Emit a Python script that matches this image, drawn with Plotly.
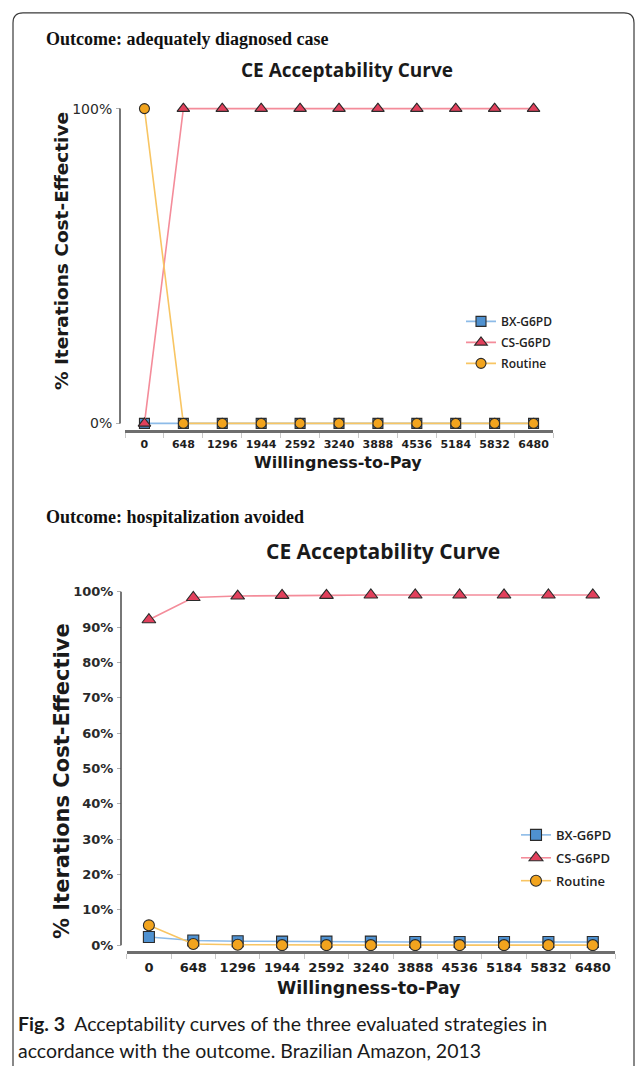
import plotly.graph_objects as go

# Willingness-to-pay thresholds (category axis)
wtp = ["0", "648", "1296", "1944", "2592", "3240", "3888", "4536", "5184", "5832", "6480"]

# Outcome: adequately diagnosed case (% of iterations cost-effective)
diag_bx = [0, 0, 0, 0, 0, 0, 0, 0, 0, 0, 0]
diag_cs = [0, 100, 100, 100, 100, 100, 100, 100, 100, 100, 100]
diag_routine = [100, 0, 0, 0, 0, 0, 0, 0, 0, 0, 0]

# Outcome: hospitalization avoided (% of iterations cost-effective)
hosp_bx = [2.3, 1.3, 1.1, 1.0, 1.0, 1.0, 0.9, 0.9, 0.9, 0.9, 0.9]
hosp_cs = [92.1, 98.4, 98.8, 99.0, 99.0, 99.1, 99.1, 99.1, 99.1, 99.1, 99.1]
hosp_routine = [5.6, 0.3, 0.1, 0.0, 0.0, 0.0, 0.0, 0.0, 0.0, 0.0, 0.0]

top_yticks = [0, 100]
bottom_yticks = [0, 10, 20, 30, 40, 50, 60, 70, 80, 90, 100]

W, H = 637, 1068


def px(x):
    return x / W


def py(y):
    return 1 - y / H


TICK_FONT = "DejaVu Sans"
AXIS_FONT = "DejaVu Sans"

styles = {
    "BX-G6PD": dict(symbol="square", fill="#4f91d0", line="#8dbbe8"),
    "CS-G6PD": dict(symbol="triangle-up", fill="#e2405c", line="#f48c9a"),
    "Routine": dict(symbol="circle", fill="#f2a41e", line="#f8c563"),
}

fig = go.Figure()


def add_series(name, values, xa, ya, legend, size):
    st = styles[name]
    sz = size + (1 if st["symbol"] == "triangle-up" else 0)
    fig.add_trace(go.Scatter(
        x=wtp, y=values, name=name, mode="lines+markers",
        xaxis=xa, yaxis=ya, legend=legend, legendgroup=f"{legend}-{name}",
        line=dict(color=st["line"], width=1.6),
        marker=dict(symbol=st["symbol"], size=sz, color=st["fill"],
                    line=dict(color="#2b2b2b", width=1.1)),
    ))


for name, vals in [("BX-G6PD", diag_bx), ("CS-G6PD", diag_cs), ("Routine", diag_routine)]:
    add_series(name, vals, "x", "y", "legend", 10)
for name, vals in [("BX-G6PD", hosp_bx), ("CS-G6PD", hosp_cs), ("Routine", hosp_routine)]:
    add_series(name, vals, "x2", "y2", "legend2", 11)


def xaxis_cfg(domain, anchor, fsize):
    return dict(
        domain=domain, anchor=anchor, type="category",
        categoryorder="array", categoryarray=wtp, range=[-0.5, 10.5],
        tickson="boundaries", ticks="outside", ticklen=5, tickwidth=1,
        tickcolor="#c8c8c8", showline=True, linecolor="#6e6e6e", linewidth=3,
        showgrid=False, zeroline=False, tickangle=0,
        tickfont=dict(family=TICK_FONT, size=fsize, color="#1e1e1e", weight="bold"),
        ticklabelstandoff=2,
    )


def yaxis_cfg(domain, rng, ticks, pos, fsize, weight):
    return dict(
        domain=domain, range=rng, anchor="free", position=pos,
        tickvals=ticks, ticktext=[f"{t}%" for t in ticks],
        ticks="outside", ticklen=4, tickcolor="#b0b0b0",
        showline=False, showgrid=False, zeroline=False,
        tickfont=dict(family=TICK_FONT, size=fsize, color="#2a2a2a", weight=weight),
        ticklabelstandoff=1,
    )


fig.update_layout(
    width=W, height=H,
    margin=dict(l=0, r=0, t=0, b=0),
    paper_bgcolor="white", plot_bgcolor="white",
    xaxis=xaxis_cfg([px(125), px(553)], "y", 11),
    yaxis=yaxis_cfg([py(429.3), py(100.7)], [-2, 102], top_yticks, px(120), 14, "normal"),
    xaxis2=xaxis_cfg([px(126.7), px(615)], "y2", 13),
    yaxis2=yaxis_cfg([py(952.7), py(586)], [-1.7, 101.7], bottom_yticks, px(121), 13, "bold"),
    legend=dict(x=px(461), y=py(306), xanchor="left", yanchor="top",
                font=dict(family="Open Sans", size=12, color="#222", weight=600),
                bgcolor="rgba(0,0,0,0)", traceorder="grouped", tracegroupgap=2),
    legend2=dict(x=px(516), y=py(821), xanchor="left", yanchor="top",
                 font=dict(family="Open Sans", size=13, color="#222", weight=600),
                 bgcolor="rgba(0,0,0,0)", traceorder="grouped", tracegroupgap=3),
    showlegend=True,
)

# Vertical axis lines spanning 0%..100%
for yref, xpos in [("y", 120), ("y2", 121)]:
    fig.add_shape(type="line", xref="paper", yref=yref,
                  x0=px(xpos), x1=px(xpos), y0=0, y1=100,
                  line=dict(color="#4a4a4a", width=1.5))

# Rounded figure frame (open at the bottom)
r = 10
frame = (f"M {px(13)},{py(1068)} L {px(13)},{py(11 + r)} "
         f"Q {px(13)},{py(11)} {px(13 + r)},{py(11)} "
         f"L {px(634 - r)},{py(11)} Q {px(634)},{py(11)} {px(634)},{py(11 + r)} "
         f"L {px(634)},{py(1068)}")
fig.add_shape(type="path", xref="paper", yref="paper", path=frame,
              line=dict(color="#3a3a3a", width=1.2))


def note(text, x, y, size, family, color="#111", weight="normal",
         xanchor="center", angle=0):
    fig.add_annotation(text=text, x=px(x), y=py(y), xref="paper", yref="paper",
                       xanchor=xanchor, yanchor="middle", showarrow=False,
                       textangle=angle,
                       font=dict(family=family, size=size, color=color, weight=weight))


SERIF = "Liberation Serif"
TITLE_FONT = "Open Sans"

# Panel headings
note("Outcome: adequately diagnosed case", 44, 37, 18, SERIF, weight="bold", xanchor="left")
note("Outcome: hospitalization avoided", 44, 517, 18, SERIF, weight="bold", xanchor="left")

# Chart titles
note("CE Acceptability Curve", 347, 68, 19, TITLE_FONT, "#1a1a1a", "bold")
note("CE Acceptability Curve", 383, 551, 21, TITLE_FONT, "#1a1a1a", "bold")

# Axis titles
note("Willingness-to-Pay", 338, 462, 16, AXIS_FONT, "#1a1a1a", "bold")
note("Willingness-to-Pay", 369, 990, 17.5, AXIS_FONT, "#1a1a1a", "bold")
note("% Iterations Cost-Effective", 61, 250, 18.5, AXIS_FONT, "#1a1a1a", "bold", angle=-90)
note("% Iterations Cost-Effective", 62, 782, 21, AXIS_FONT, "#1a1a1a", "bold", angle=-90)

# Caption
note("<b>Fig. 3</b>  Acceptability curves of the three evaluated strategies in",
     16, 1025, 19.5, "Lato", "#1a1a1a", xanchor="left")
note("accordance with the outcome. Brazilian Amazon, 2013",
     16, 1052, 19.5, "Lato", "#1a1a1a", xanchor="left")

fig.write_html("out.html")
